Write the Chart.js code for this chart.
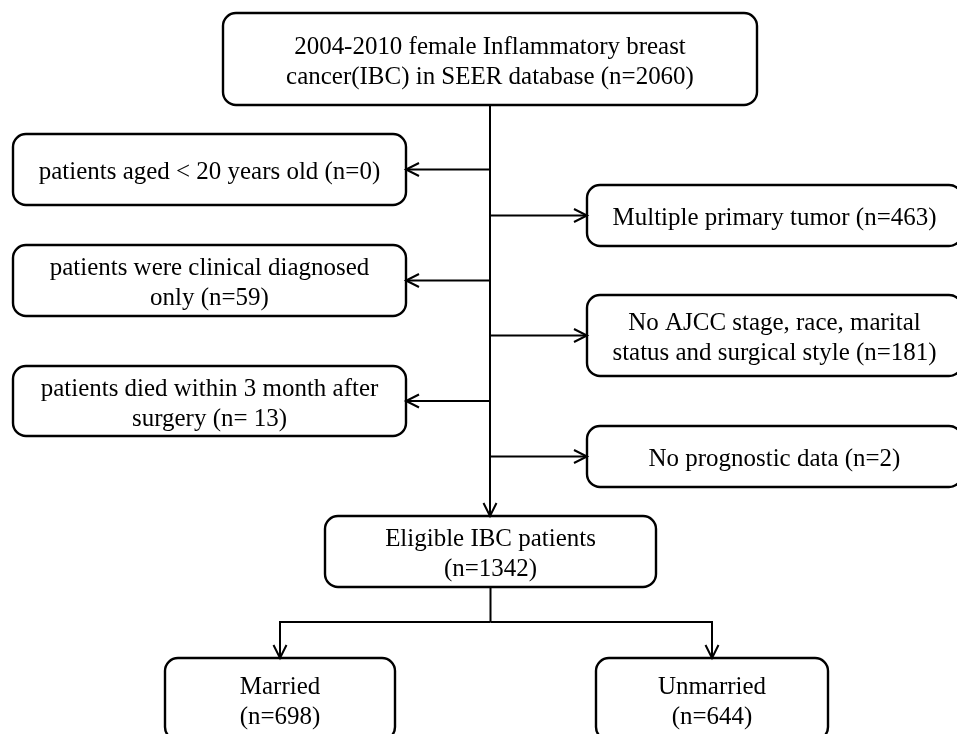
<!DOCTYPE html>
<html>
<head>
<meta charset="utf-8">
<script src="https://cdn.jsdelivr.net/npm/chart.js@4"></script>
<style>
html,body{margin:0;padding:0;background:#fff;}
#wrap{width:957px;height:734px;}
</style>
</head>
<body>
<div id="wrap"><canvas id="flow"></canvas></div>
<script>
// flow steps: text lines ({n} is replaced by the count) and patient counts
var nodeText=[
    ["2004-2010 female Inflammatory breast","cancer(IBC) in SEER database (n={n})"],
    ["patients aged < 20 years old (n={n})"],
    ["patients were clinical diagnosed","only (n={n})"],
    ["patients died within 3 month after","surgery (n= {n})"],
    ["Multiple primary tumor (n={n})"],
    ["No AJCC stage, race, marital","status and surgical style (n={n})"],
    ["No prognostic data (n={n})"],
    ["Eligible IBC patients","(n={n})"],
    ["Married","(n={n})"],
    ["Unmarried","(n={n})"]
];
var nodeCounts=[2060,0,59,13,463,181,2,1342,698,644];
// role of each step in the diagram
var nodeRole=['source','exclLeft','exclLeft','exclLeft','exclRight','exclRight','exclRight','eligible','group','group'];

// layout (chart units, same size as the canvas)
var boxLeft  =[223, 13, 13, 13,587,587,587,325,165,596];
var boxTop   =[ 13,134,245,366,185,295,426,516,658,658];
var boxRight =[757,406,406,406,962,962,962,656,395,828];
var boxBottom=[105,205,316,436,246,376,487,587,740,740];
var splitY=622;

var fontPx=26, lineH=30, squeeze=0.96;

function cx(i){return (boxLeft[i]+boxRight[i])/2;}
function cy(i){return (boxTop[i]+boxBottom[i])/2;}

// connectors, built from the layout
var links=[];
var trunkX=cx(0);
var elig=nodeRole.indexOf('eligible');
links.push({pts:[[trunkX,boxBottom[0]],[trunkX,boxTop[elig]]],arrow:'down'});
nodeRole.forEach(function(r,i){
    if(r==='exclLeft')links.push({pts:[[trunkX,cy(i)],[boxRight[i],cy(i)]],arrow:'left'});
    if(r==='exclRight')links.push({pts:[[trunkX,cy(i)],[boxLeft[i],cy(i)]],arrow:'right'});
});
links.push({pts:[[cx(elig),boxBottom[elig]],[cx(elig),splitY]],arrow:null});
nodeRole.forEach(function(r,i){
    if(r==='group')links.push({pts:[[cx(elig),splitY],[cx(i),splitY],[cx(i),boxTop[i]]],arrow:'down'});
});

var datasets=links.map(function(l){
    return {
        data:l.pts.map(function(p){return {x:p[0],y:p[1]};}),
        showLine:true,
        borderColor:'#000',
        borderWidth:2,
        pointRadius:0,
        fill:false,
        tension:0
    };
});

function roundBox(ctx,x0,y0,x1,y1,r){
    ctx.beginPath();
    ctx.moveTo(x0+r,y0);
    ctx.lineTo(x1-r,y0);
    ctx.arcTo(x1,y0,x1,y0+r,r);
    ctx.lineTo(x1,y1-r);
    ctx.arcTo(x1,y1,x1-r,y1,r);
    ctx.lineTo(x0+r,y1);
    ctx.arcTo(x0,y1,x0,y1-r,r);
    ctx.lineTo(x0,y0+r);
    ctx.arcTo(x0,y0,x0+r,y0,r);
    ctx.closePath();
}

var flowPlugin={
    id:'flowBoxes',
    afterDatasetsDraw:function(chart){
        var ctx=chart.ctx, sx=chart.scales.x, sy=chart.scales.y;
        ctx.save();
        ctx.strokeStyle='#000';
        ctx.fillStyle='#000';
        // arrow heads
        ctx.lineWidth=2;
        links.forEach(function(l){
            if(!l.arrow)return;
            var p=l.pts[l.pts.length-1];
            var tx=sx.getPixelForValue(p[0]), ty=sy.getPixelForValue(p[1]);
            var len=13, w=6.5;
            ctx.beginPath();
            if(l.arrow==='down'){ctx.moveTo(tx-w,ty-len);ctx.lineTo(tx,ty);ctx.lineTo(tx+w,ty-len);}
            if(l.arrow==='left'){ctx.moveTo(tx+len,ty-w);ctx.lineTo(tx,ty);ctx.lineTo(tx+len,ty+w);}
            if(l.arrow==='right'){ctx.moveTo(tx-len,ty-w);ctx.lineTo(tx,ty);ctx.lineTo(tx-len,ty+w);}
            ctx.stroke();
        });
        // boxes and text
        ctx.lineWidth=2.4;
        nodeText.forEach(function(lines,i){
            var x0=sx.getPixelForValue(boxLeft[i]), x1=sx.getPixelForValue(boxRight[i]);
            var y0=sy.getPixelForValue(boxTop[i]), y1=sy.getPixelForValue(boxBottom[i]);
            roundBox(ctx,x0,y0,x1,y1,13);
            ctx.stroke();
            var mx=(x0+x1)/2, my=(y0+y1)/2;
            lines.forEach(function(t,k){
                var by=my+(k-(lines.length-1)/2)*lineH+fontPx*0.37;
                ctx.save();
                ctx.translate(mx,by);
                ctx.scale(squeeze,1);
                ctx.font=fontPx+'px "Liberation Serif", "Times New Roman", serif';
                ctx.textAlign='center';
                ctx.textBaseline='alphabetic';
                ctx.fillText(t.replace('{n}',nodeCounts[i]),0,0);
                ctx.restore();
            });
        });
        ctx.restore();
    }
};

new Chart(document.getElementById('flow'),{
    type:'scatter',
    data:{datasets:datasets},
    options:{
        responsive:true,
        maintainAspectRatio:false,
        animation:false,
        layout:{padding:0},
        plugins:{legend:{display:false},tooltip:{enabled:false}},
        scales:{
            x:{type:'linear',min:0,max:957,display:false},
            y:{type:'linear',min:0,max:734,reverse:true,display:false}
        }
    },
    plugins:[flowPlugin]
});
</script>
</body>
</html>
